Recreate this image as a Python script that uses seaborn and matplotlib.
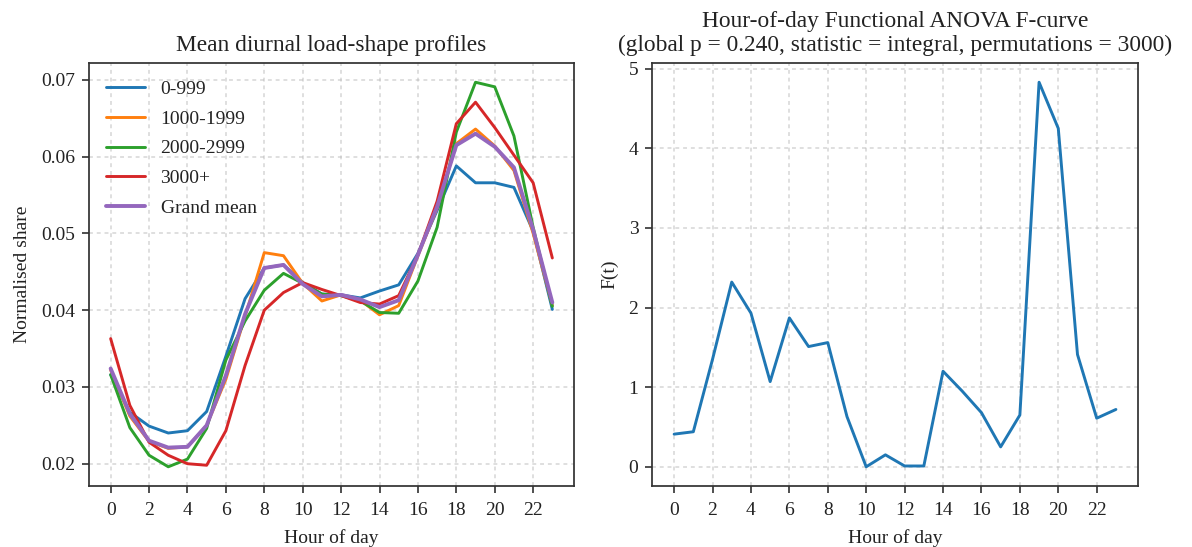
import numpy as np
import pandas as pd
import matplotlib
matplotlib.use("Agg")
import matplotlib.pyplot as plt
import seaborn as sns

hours = list(range(24))

band_0_999 = [0.0316, 0.0267, 0.0249, 0.0240, 0.0243, 0.0268, 0.0340, 0.0415, 0.0455, 0.0459,
              0.0436, 0.0421, 0.0420, 0.0416, 0.0425, 0.0433, 0.0474, 0.0530, 0.0588, 0.0566,
              0.0566, 0.0560, 0.0503, 0.0401]
band_1000_1999 = [0.0322, 0.0262, 0.0229, 0.0220, 0.0222, 0.0250, 0.0310, 0.0392, 0.0475, 0.0471,
                  0.0435, 0.0412, 0.0420, 0.0413, 0.0394, 0.0406, 0.0471, 0.0533, 0.0617, 0.0636,
                  0.0614, 0.0582, 0.0500, 0.0406]
band_2000_2999 = [0.0316, 0.0247, 0.0211, 0.0196, 0.0206, 0.0246, 0.0335, 0.0386, 0.0426, 0.0448,
                  0.0435, 0.0421, 0.0419, 0.0412, 0.0397, 0.0396, 0.0438, 0.0508, 0.0632, 0.0697,
                  0.0691, 0.0627, 0.0508, 0.0405]
band_3000_plus = [0.0363, 0.0276, 0.0228, 0.0211, 0.0200, 0.0198, 0.0243, 0.0328, 0.0400, 0.0423,
                  0.0436, 0.0427, 0.0419, 0.0410, 0.0408, 0.0419, 0.0472, 0.0542, 0.0643, 0.0671,
                  0.0638, 0.0602, 0.0566, 0.0468]
grand_mean = [0.0324, 0.0265, 0.0230, 0.0221, 0.0222, 0.0250, 0.0315, 0.0395, 0.0455, 0.0459,
              0.0434, 0.0418, 0.0420, 0.0414, 0.0404, 0.0413, 0.0472, 0.0535, 0.0615, 0.0630,
              0.0613, 0.0586, 0.0505, 0.0410]

series_labels = ["0-999", "1000-1999", "2000-2999", "3000+", "Grand mean"]
series_values = [band_0_999, band_1000_1999, band_2000_2999, band_3000_plus, grand_mean]

f_curve = [0.41, 0.44, 1.35, 2.32, 1.93, 1.07, 1.87, 1.51, 1.56, 0.63,
           0.00, 0.15, 0.01, 0.01, 1.20, 0.95, 0.68, 0.25, 0.65, 4.83,
           4.25, 1.41, 0.61, 0.72]

xticks = list(range(0, 24, 2))
left_yticks = [0.02, 0.03, 0.04, 0.05, 0.06, 0.07]
right_yticks = [0, 1, 2, 3, 4, 5]

sns.set_theme(style="ticks")
plt.rcParams.update({
    "font.family": ["Liberation Serif", "DejaVu Serif"],
    "font.size": 10,
    "axes.titlesize": 12,
    "axes.labelsize": 10,
    "xtick.labelsize": 10,
    "ytick.labelsize": 10,
    "legend.fontsize": 10,
    "axes.edgecolor": "#333333",
    "axes.linewidth": 0.9,
    "xtick.major.size": 3.5,
    "ytick.major.size": 3.5,
    "xtick.major.width": 0.8,
    "ytick.major.width": 0.8,
    "xtick.major.pad": 4.8,
    "axes.labelpad": 5.0,
    "xtick.color": "#222222",
    "ytick.color": "#222222",
    "text.color": "#222222",
    "axes.labelcolor": "#222222",
})

long_rows = []
for lab, vals in zip(series_labels, series_values):
    for h, v in zip(hours, vals):
        long_rows.append({"hour": h, "share": v, "group": lab})
df = pd.DataFrame(long_rows)
df_f = pd.DataFrame({"hour": hours, "F": f_curve})

palette = dict(zip(series_labels, sns.color_palette("tab10", 5)))

dpi = 140
fig = plt.figure(figsize=(1192 / dpi, 547 / dpi), dpi=dpi)
ax1 = fig.add_axes([0.0743, 0.1115, 0.4076, 0.7733])
ax2 = fig.add_axes([0.547, 0.1115, 0.4077, 0.7733])

for lab in series_labels:
    sub = df[df["group"] == lab]
    sns.lineplot(data=sub, x="hour", y="share", ax=ax1, color=palette[lab],
                 linewidth=2.0 if lab == "Grand mean" else 1.5, label=lab)
ax1.set_title("Mean diurnal load-shape profiles")
ax1.set_xlabel("Hour of day")
ax1.set_ylabel("Normalised share")
ax1.set_xticks(xticks)
ax1.set_yticks(left_yticks)
leg = ax1.legend(loc="upper left", frameon=False, labelspacing=0.62)

sns.lineplot(data=df_f, x="hour", y="F", ax=ax2, color=sns.color_palette("tab10")[0], linewidth=1.5)
ax2.set_title("Hour-of-day Functional ANOVA F-curve\n(global p = 0.240, statistic = integral, permutations = 3000)")
ax2.set_xlabel("Hour of day")
ax2.set_ylabel("F(t)")
ax2.set_xticks(xticks)
ax2.set_yticks(right_yticks)

for ax in (ax1, ax2):
    ax.grid(True, linestyle=(0, (2.5, 2.5)), linewidth=0.8, color="#bbbbbb", alpha=0.6)
    for s in ax.spines.values():
        s.set_visible(True)

fig.savefig("out.png", dpi=dpi)
